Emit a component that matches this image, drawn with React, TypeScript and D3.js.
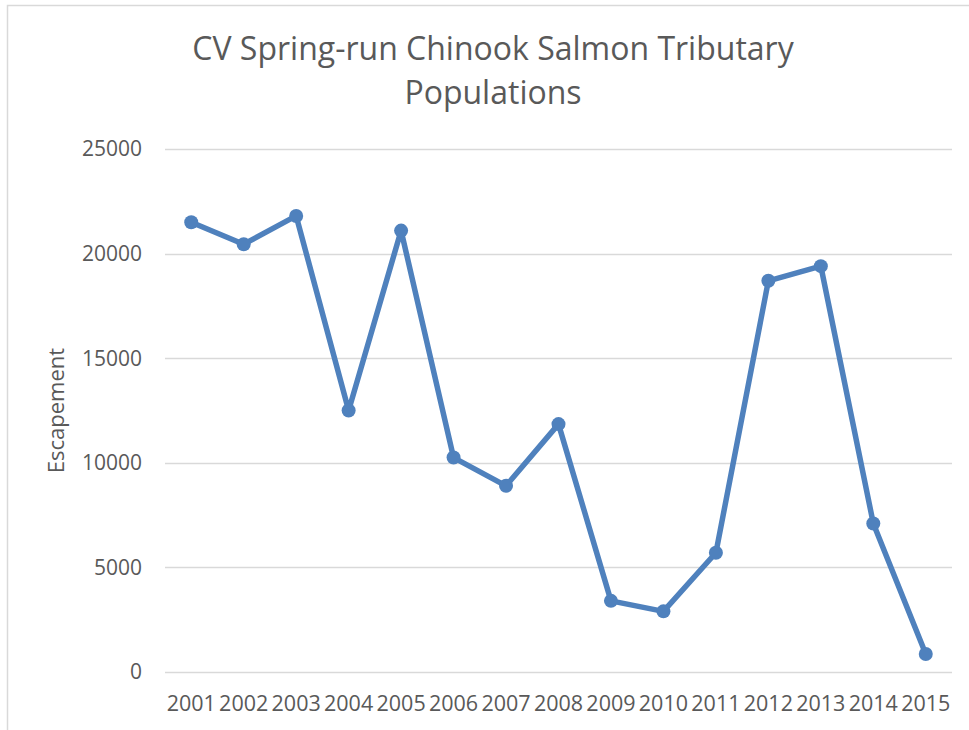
import React, { useRef, useEffect } from 'react';
import * as d3 from 'd3';

const years = ['2001', '2002', '2003', '2004', '2005', '2006', '2007', '2008', '2009', '2010', '2011', '2012', '2013', '2014', '2015'];
const escapement = [21500, 20450, 21800, 12500, 21100, 10250, 8900, 11850, 3400, 2900, 5700, 18700, 19400, 7100, 860];
const yTicks = [0, 5000, 10000, 15000, 20000, 25000];
const titleLines = ['CV Spring-run Chinook Salmon Tributary', 'Populations'];

export default function App() {
  const ref = useRef<SVGSVGElement>(null);

  useEffect(() => {
    const width = 969;
    const height = 730;
    const marginTop = 149;
    const marginRight = 17;
    const marginBottom = 58;
    const marginLeft = 165;
    const font = '"Open Sans", sans-serif';
    const textColor = '#595959';
    const blue = '#4f81bd';

    const svg = d3.select(ref.current);
    svg.selectAll('*').remove();

    const x = d3.scaleBand()
      .domain(years)
      .range([marginLeft, width - marginRight]);

    const y = d3.scaleLinear()
      .domain([0, 25000])
      .range([height - marginBottom, marginTop]);

    const cx = (d: string) => (x(d) as number) + x.bandwidth() / 2;

    // chart frame
    svg.append('rect')
      .attr('x', 7.5)
      .attr('y', 5.5)
      .attr('width', width)
      .attr('height', height)
      .attr('fill', 'white')
      .attr('stroke', '#d9d9d9')
      .attr('stroke-width', 1.5);

    // title
    svg.append('text')
      .attr('font-family', font)
      .attr('font-size', 32)
      .attr('fill', textColor)
      .attr('text-anchor', 'middle')
      .selectAll('tspan')
      .data(titleLines)
      .join('tspan')
      .attr('x', 493)
      .attr('y', (d, i) => 60 + i * 44)
      .text(d => d);

    // gridlines
    svg.append('g')
      .selectAll('line')
      .data(yTicks)
      .join('line')
      .attr('x1', marginLeft)
      .attr('x2', width - marginRight)
      .attr('y1', d => Math.round(y(d)) + 0.5)
      .attr('y2', d => Math.round(y(d)) + 0.5)
      .attr('stroke', '#d9d9d9')
      .attr('stroke-width', 1.5);

    // y tick labels
    svg.append('g')
      .attr('font-family', font)
      .attr('font-size', 21)
      .attr('fill', textColor)
      .attr('text-anchor', 'end')
      .selectAll('text')
      .data(yTicks)
      .join('text')
      .attr('x', 142)
      .attr('y', d => y(d))
      .attr('dy', '0.35em')
      .text(d => d);

    // x tick labels
    svg.append('g')
      .attr('font-family', font)
      .attr('font-size', 21.5)
      .attr('fill', textColor)
      .attr('text-anchor', 'middle')
      .selectAll('text')
      .data(years)
      .join('text')
      .attr('x', d => cx(d))
      .attr('y', 711)
      .text(d => d);

    // y axis title
    svg.append('text')
      .attr('transform', `translate(64,${(y(0) + y(25000)) / 2}) rotate(-90)`)
      .attr('font-family', font)
      .attr('font-size', 22)
      .attr('fill', textColor)
      .attr('text-anchor', 'middle')
      .text('Escapement');

    const line = d3.line<number>()
      .x((d, i) => cx(years[i]))
      .y(d => y(d));

    svg.append('path')
      .attr('d', line(escapement))
      .attr('fill', 'none')
      .attr('stroke', blue)
      .attr('stroke-width', 5.5)
      .attr('stroke-linejoin', 'round');

    svg.append('g')
      .selectAll('circle')
      .data(escapement)
      .join('circle')
      .attr('cx', (d, i) => cx(years[i]))
      .attr('cy', d => y(d))
      .attr('r', 7)
      .attr('fill', blue);
  }, []);

  return (
    <svg
      ref={ref}
      width={969}
      height={730}
      style={{ position: 'absolute', left: 0, top: 0 }}
    />
  );
}
